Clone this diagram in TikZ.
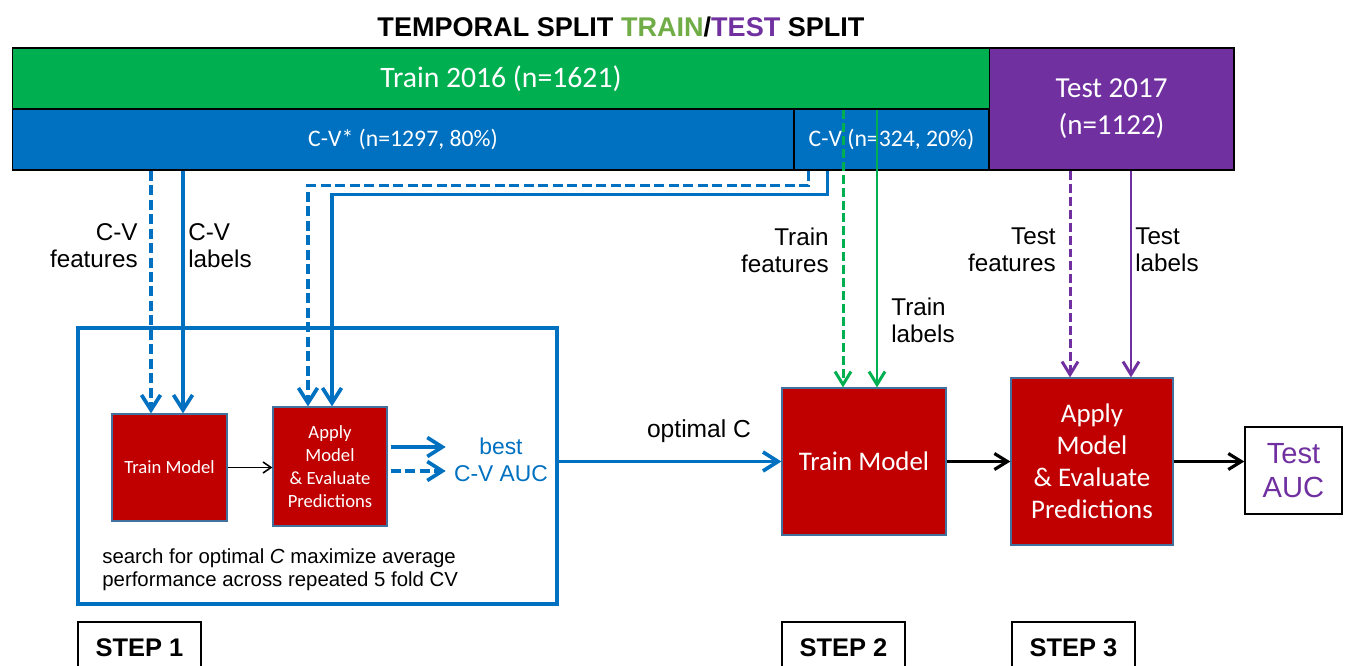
\documentclass[tikz,border=0pt]{standalone}
\usepackage{fontspec}
\setmainfont{Liberation Sans}
\newfontfamily\calibri{Carlito}
\usetikzlibrary{arrows.meta}

\definecolor{trgreen}{HTML}{00B050}
\definecolor{ttgreen}{HTML}{70AD47}
\definecolor{cvblue}{HTML}{0070C0}
\definecolor{tspurple}{HTML}{7030A0}
\definecolor{mred}{HTML}{C00000}
\definecolor{boxedge}{HTML}{41719C}

\begin{document}
\begin{tikzpicture}[x=0.02cm, y=-0.02cm,
    bar/.style={draw=black, line width=0.6pt, text=white, inner sep=0pt},
    redbox/.style={draw=boxedge, line width=0.7pt, fill=mred, text=white,
        align=center, inner sep=0pt},
    lbl/.style={inner sep=0pt, font=\fontsize{13.8}{15.3}\selectfont},
    stepbox/.style={draw=black, line width=1.3pt},
    cvline/.style={cvblue, line width=2.1pt,
        -{Straight Barb[length=0.3cm,width=0.38cm]}},
    cvdash/.style={cvline, dash pattern=on 0.2cm off 0.09cm},
    trline/.style={trgreen, line width=1.7pt,
        -{Straight Barb[length=0.26cm,width=0.32cm]}},
    trdash/.style={trline, dash pattern=on 0.18cm off 0.08cm},
    tsline/.style={tspurple, line width=1.7pt,
        -{Straight Barb[length=0.26cm,width=0.32cm]}},
    tsdash/.style={tsline, dash pattern=on 0.18cm off 0.08cm},
    blkline/.style={black, line width=1.8pt,
        -{Straight Barb[length=0.26cm,width=0.32cm]}}
]
\useasboundingbox (0,0) rectangle (1346,666);

% Titel
\node[anchor=base, font=\bfseries\fontsize{15.4}{18}\selectfont] (title) at (621,36)
    {TEMPORAL SPLIT \textcolor{ttgreen}{TRAIN}/\textcolor{tspurple}{TEST} SPLIT};

% Balken
\node[bar, fill=trgreen, minimum width=19.54cm, minimum height=1.22cm,
    font=\calibri\fontsize{16.9}{20}\selectfont] (train) at (501,78.5) {Train 2016 (n=1621)};
\node[bar, fill=cvblue, minimum width=15.64cm, minimum height=1.22cm,
    font=\calibri\fontsize{13.5}{16}\selectfont] (cvA) at (403,139.5) {C-V* (n=1297, 80\%)};
\node[bar, fill=cvblue, minimum width=3.9cm, minimum height=1.22cm,
    font=\calibri\fontsize{13.5}{16}\selectfont] (cvB) at (891.5,139.5) {C-V (n=324, 20\%)};
\node[bar, fill=tspurple, minimum width=4.9cm, minimum height=2.44cm, align=center,
    font=\calibri\fontsize{16.5}{21}\selectfont] (test) at (1111.5,109) {Test 2017\\(n=1122)};

% Schritt 1
\node[draw=cvblue, line width=2pt, minimum width=9.58cm, minimum height=5.52cm]
    (cvbox) at (317.5,466) {};
\node[redbox, minimum width=2.3cm, minimum height=2.14cm,
    font=\calibri\fontsize{10.6}{13}\selectfont] (tm1) at (169.5,467.5) {Train Model};
\node[redbox, minimum width=2.28cm, minimum height=2.38cm,
    font=\calibri\fontsize{10.6}{13}\selectfont] (ap1) at (330,466.5)
    {Apply\\Model\\\& Evaluate\\Predictions};
\node[text=cvblue, align=center, inner xsep=0.16cm, inner ysep=0pt,
    font=\fontsize{13}{15.3}\selectfont] (best) at (501,460) {best\\C-V AUC};
\node[anchor=west, align=left, inner sep=0pt,
    font=\fontsize{11.6}{13}\selectfont] (search) at (102,570)
    {search for optimal \textit{C} maximize average\\performance across repeated 5 fold CV};

% Schritt 2 und 3
\node[redbox, minimum width=3.28cm, minimum height=2.94cm,
    font=\calibri\fontsize{15.3}{18}\selectfont] (tm2) at (864,461.5) {Train Model};
\node[redbox, minimum width=3.24cm, minimum height=3.34cm,
    font=\calibri\fontsize{15.3}{18.2}\selectfont] (ap2) at (1092,461.5)
    {Apply\\Model\\\& Evaluate\\Predictions};
\node[draw=black, line width=0.8pt, minimum width=1.94cm, minimum height=1.74cm,
    text=tspurple, align=center, inner sep=0pt,
    font=\fontsize{16.6}{19.8}\selectfont] (auc) at (1293.5,470.5) {Test\\AUC};

% Beschriftungen
\node[lbl, anchor=east, align=right] (cvfeat) at (138,246) {C-V\\features};
\node[lbl, anchor=west, align=left] (cvlab) at (188,246) {C-V\\labels};
\node[lbl, anchor=east, align=right] (trfeat) at (829,250) {Train\\features};
\node[lbl, anchor=west, align=left] (trlab) at (891,320) {Train\\labels};
\node[lbl, anchor=east, align=right] (tsfeat) at (1056,250) {Test\\features};
\node[lbl, anchor=west, align=left] (tslab) at (1135,250) {Test\\labels};

% Pfeile
\draw[cvdash] ([xshift=-0.37cm]tm1.north |- cvA.south) -- ([xshift=-0.37cm]tm1.north);
\draw[cvline] ([xshift=0.27cm]tm1.north |- cvA.south) -- ([xshift=0.27cm]tm1.north);
\draw[cvdash] ([xshift=-1.66cm]cvB.south) -- ++(0,15) -| ([xshift=-0.44cm]ap1.north);
\draw[cvline] ([xshift=-1.28cm]cvB.south) -- ++(0,24) -| ([xshift=0.04cm]ap1.north);
\draw[black, line width=0.9pt, -{Straight Barb[length=0.16cm,width=0.22cm]}]
    (tm1.east) -- (tm1.east -| ap1.west);
\draw[cvline] ([xshift=0.06cm,yshift=0.39cm]ap1.east) -- ([yshift=0.39cm]ap1.east -| best.west);
\draw[cvdash] ([xshift=0.06cm,yshift=-0.09cm]ap1.east) -- ([yshift=-0.09cm]ap1.east -| best.west);
\draw[cvline] (cvbox.east |- tm2.west) -- (tm2.west)
    node[pos=0.63, above=0.22cm, text=black, font=\fontsize{14}{16}\selectfont] {optimal C};

\draw[trdash] ([xshift=-0.42cm]tm2.north |- train.south) -- ([xshift=-0.42cm]tm2.north);
\draw[trline] ([xshift=0.26cm]tm2.north |- train.south) -- ([xshift=0.26cm]tm2.north);
\draw[tsdash] ([xshift=-0.44cm]ap2.north |- test.south) -- ([xshift=-0.44cm]ap2.north);
\draw[tsline] ([xshift=0.78cm]ap2.north |- test.south) -- ([xshift=0.78cm]ap2.north);

\draw[blkline] (tm2.east) -- (tm2.east -| ap2.west);
\draw[blkline] (ap2.east) -- (ap2.east -| auc.west);

% Schritte
\draw[stepbox] (78,622) rectangle (201,700);
\draw[stepbox] (782,622) rectangle (905,700);
\draw[stepbox] (1012,622) rectangle (1135,700);
\node[anchor=base, font=\bfseries\fontsize{14.5}{17}\selectfont] (step1) at (139.5,656) {STEP 1};
\node[anchor=base, font=\bfseries\fontsize{14.5}{17}\selectfont] (step2) at (843.5,656) {STEP 2};
\node[anchor=base, font=\bfseries\fontsize{14.5}{17}\selectfont] (step3) at (1073.5,656) {STEP 3};
\end{tikzpicture}
\end{document}
